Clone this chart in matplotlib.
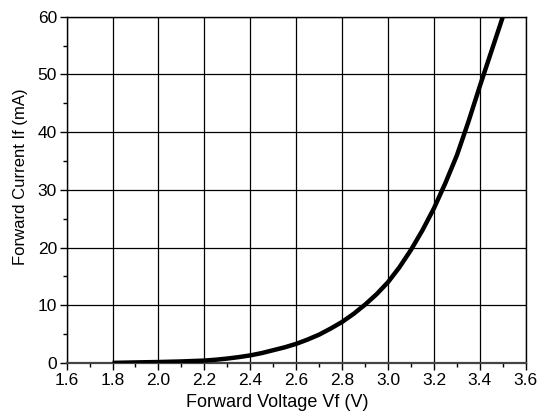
import matplotlib
matplotlib.use("Agg")
import matplotlib.pyplot as plt
from matplotlib.ticker import MultipleLocator, FormatStrFormatter

# forward voltage (V) vs forward current (mA)
vf = [1.8, 1.9, 2.0, 2.1, 2.2, 2.25, 2.3, 2.35, 2.4, 2.45, 2.5, 2.55, 2.6, 2.65, 2.7,
      2.75, 2.8, 2.85, 2.9, 2.95, 3.0, 3.05, 3.1, 3.15, 3.2, 3.25, 3.3, 3.35, 3.4,
      3.45, 3.5]
i_f = [0.0, 0.08, 0.15, 0.25, 0.4, 0.55, 0.75, 1.0, 1.3, 1.7, 2.2, 2.7, 3.3, 4.05, 4.9,
       5.95, 7.1, 8.5, 10.1, 11.9, 14.0, 16.6, 19.6, 23.0, 26.8, 31.2, 36.0, 41.8, 48.0,
       54.0, 60.0]

plt.rcParams["font.family"] = ["Liberation Sans", "DejaVu Sans"]

fig = plt.figure(figsize=(5.46, 4.2), dpi=100)
ax = fig.add_axes([0.122, 0.136, 0.841, 0.824])

ax.plot(vf, i_f, color="black", linewidth=3.2, solid_capstyle="butt",
        solid_joinstyle="round", zorder=3)

ax.set_xlim(1.6, 3.6)
ax.set_ylim(0, 60)
ax.xaxis.set_major_locator(MultipleLocator(0.2))
ax.xaxis.set_minor_locator(MultipleLocator(0.1))
ax.yaxis.set_major_locator(MultipleLocator(10))
ax.yaxis.set_minor_locator(MultipleLocator(5))
ax.xaxis.set_major_formatter(FormatStrFormatter("%.1f"))

ax.grid(True, which="major", color="black", linewidth=0.9)
ax.set_axisbelow(True)

ax.tick_params(which="major", direction="out", length=5, width=1, labelsize=12.5, pad=2)
ax.tick_params(which="minor", direction="out", length=3, width=1)

for s in ax.spines.values():
    s.set_linewidth(1.0)
ax.spines["bottom"].set_color("#444444")
ax.spines["bottom"].set_linewidth(1.6)

ax.set_xlabel("Forward Voltage Vf (V)", fontsize=13)
ax.set_ylabel("Forward Current If (mA)", fontsize=12)
ax.xaxis.set_label_coords(0.458, -0.09)
ax.yaxis.set_label_coords(-0.085, 0.539)

fig.savefig("out.png", dpi=100)
